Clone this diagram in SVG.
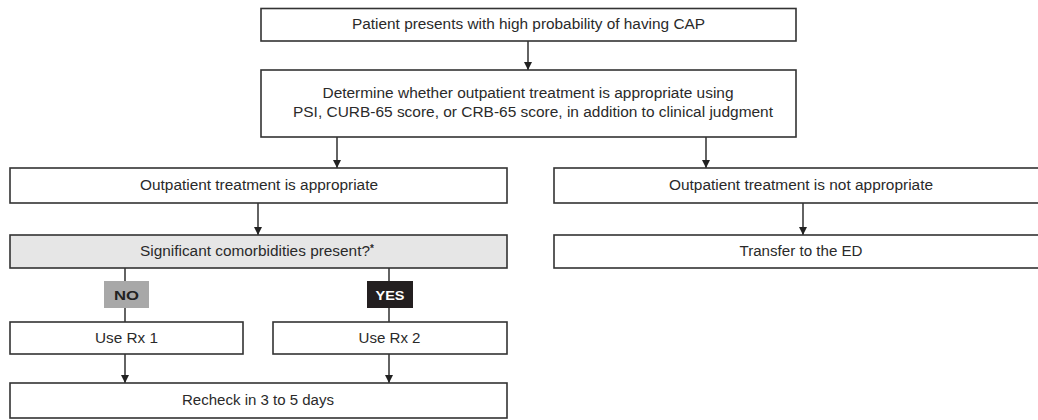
<svg xmlns="http://www.w3.org/2000/svg" width="1038" height="420" viewBox="0 0 1038 420">
<defs>
<marker id="ah" markerUnits="userSpaceOnUse" markerWidth="8" markerHeight="9" refX="8" refY="4" orient="auto">
<path d="M0,0 L8,4 L0,8 z" fill="#222"/>
</marker>
<style>
.box{fill:#fff;stroke:#333;stroke-width:1.6}
.grey{fill:#e6e6e6;stroke:#333;stroke-width:1.6}
.t{font-family:"Liberation Sans",Arial,sans-serif;font-size:14px;fill:#2a2a2a;text-anchor:middle}
.tag{font-family:"Liberation Sans",Arial,sans-serif;font-size:13px;font-weight:bold;text-anchor:middle}
.c{fill:none;stroke:#222;stroke-width:1.4}
</style>
</defs>
<rect width="1038" height="420" fill="#fff"/>
<g id="connectors">
<line class="c" x1="528" y1="41" x2="528" y2="70" marker-end="url(#ah)"/>
<line class="c" x1="337" y1="137" x2="337" y2="168" marker-end="url(#ah)"/>
<line class="c" x1="706" y1="137" x2="706" y2="168" marker-end="url(#ah)"/>
<line class="c" x1="258" y1="203" x2="258" y2="235" marker-end="url(#ah)"/>
<line class="c" x1="803" y1="203" x2="803" y2="235" marker-end="url(#ah)"/>
<line class="c" x1="125" y1="268" x2="125" y2="281"/>
<line class="c" x1="125" y1="308" x2="125" y2="322"/>
<line class="c" x1="389" y1="268" x2="389" y2="281"/>
<line class="c" x1="389" y1="308" x2="389" y2="322"/>
<line class="c" x1="125" y1="354" x2="125" y2="383" marker-end="url(#ah)"/>
<line class="c" x1="389" y1="354" x2="389" y2="383" marker-end="url(#ah)"/>
</g>
<g id="n_start">
<rect class="box" x="261" y="8.5" width="535" height="32.5"/>
<text class="t" x="528.5" y="29" textLength="353" lengthAdjust="spacingAndGlyphs">Patient presents with high probability of having CAP</text>
</g>
<g id="n_determine">
<rect class="box" x="261" y="70" width="535" height="67"/>
<text class="t" x="528" y="98" textLength="411" lengthAdjust="spacingAndGlyphs">Determine whether outpatient treatment is appropriate using</text>
<text class="t" x="533" y="117" textLength="480" lengthAdjust="spacingAndGlyphs">PSI, CURB-65 score, or CRB-65 score, in addition to clinical judgment</text>
</g>
<g id="n_outpatient">
<rect class="box" x="10" y="168" width="497" height="35"/>
<text class="t" x="259" y="190" textLength="238" lengthAdjust="spacingAndGlyphs">Outpatient treatment is appropriate</text>
</g>
<g id="n_not_outpatient">
<rect class="box" x="554" y="168" width="500" height="35"/>
<text class="t" x="801" y="190" textLength="264" lengthAdjust="spacingAndGlyphs">Outpatient treatment is not appropriate</text>
</g>
<g id="n_comorb">
<rect class="grey" x="10" y="235" width="497" height="33"/>
<text class="t" x="255" y="256" textLength="230" lengthAdjust="spacingAndGlyphs">Significant comorbidities present?</text>
<text x="370" y="252" style="font-family:'Liberation Sans',Arial,sans-serif;font-size:10px;font-weight:bold;fill:#2a2a2a">*</text>
</g>
<g id="n_transfer">
<rect class="box" x="554" y="235" width="500" height="33"/>
<text class="t" x="801" y="256" textLength="123" lengthAdjust="spacingAndGlyphs">Transfer to the ED</text>
</g>
<g id="n_no">
<rect x="104" y="281" width="45" height="27" fill="#a8a8a8"/>
<text class="tag" x="126.5" y="299.5" fill="#222" textLength="25" lengthAdjust="spacingAndGlyphs">NO</text>
</g>
<g id="n_yes">
<rect x="367" y="281" width="46" height="27" fill="#231f20"/>
<text class="tag" x="390" y="299.5" fill="#fff" textLength="29" lengthAdjust="spacingAndGlyphs">YES</text>
</g>
<g id="n_rx1">
<rect class="box" x="10" y="322" width="233" height="32"/>
<text class="t" x="126.5" y="343" textLength="63" lengthAdjust="spacingAndGlyphs">Use Rx 1</text>
</g>
<g id="n_rx2">
<rect class="box" x="273" y="322" width="234" height="32"/>
<text class="t" x="389.5" y="343" textLength="62" lengthAdjust="spacingAndGlyphs">Use Rx 2</text>
</g>
<g id="n_recheck">
<rect class="box" x="10" y="383" width="497" height="35"/>
<text class="t" x="258" y="405" textLength="152" lengthAdjust="spacingAndGlyphs">Recheck in 3 to 5 days</text>
</g>
</svg>
